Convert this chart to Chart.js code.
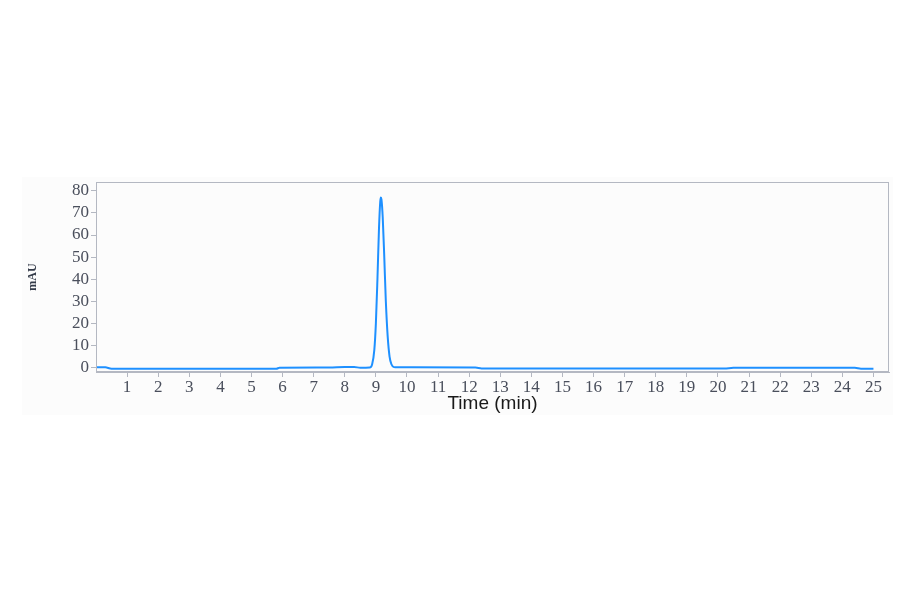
<!DOCTYPE html>
<html>
<head>
<meta charset="utf-8">
<script src="https://cdn.jsdelivr.net/npm/chart.js@4/dist/chart.umd.min.js"></script>
<style>
  html, body { margin: 0; padding: 0; background: #ffffff; }
  #panel { position: absolute; left: 22px; top: 177px; width: 871px; height: 238px; background: #fcfcfc; }
  #chart { display: block; }
</style>
</head>
<body>
<div id="panel"><canvas id="chart" width="871" height="238"></canvas></div>
<script>
// chromatogram: time (min) and absorbance (mAU)
var times = [0, 0.3, 0.5, 3.0, 5.8, 5.9, 7.5, 8.0, 8.3, 8.5, 8.8,
             8.88, 8.95, 9.00, 9.05, 9.10, 9.14, 9.16, 9.18, 9.22, 9.27, 9.32, 9.38, 9.44, 9.50, 9.58,
             9.7, 12.2, 12.4, 16.0, 20.2, 20.5, 22.5, 24.4, 24.6, 25.0];
var mau   = [0.2, 0.1, -0.5, -0.5, -0.5, -0.1, 0.0, 0.3, 0.3, -0.1, 0.0,
             1.5, 8, 20, 40, 63, 75, 77, 76, 68, 50, 30, 14, 5, 1.5, 0.2,
             0.1, 0.0, -0.4, -0.4, -0.4, -0.1, -0.1, -0.1, -0.5, -0.5];

var xTicks = [1,2,3,4,5,6,7,8,9,10,11,12,13,14,15,16,17,18,19,20,21,22,23,24,25];
var yTicks = [0,10,20,30,40,50,60,70,80];

var points = times.map(function(t, i) { return { x: t, y: mau[i] }; });

var tickFont = { family: 'Liberation Serif', size: 17 };
var tickColor = '#4a4f5c';
var axisColor = '#b4b8c2';

// box round the plot area
var frame = {
  id: 'frame',
  afterDraw: function(chart) {
    var a = chart.chartArea, c = chart.ctx;
    c.save();
    c.strokeStyle = axisColor;
    c.lineWidth = 1;
    c.strokeRect(a.left + 0.5, a.top + 0.5, a.right - a.left - 1, a.bottom - a.top - 1);
    c.restore();
  }
};

new Chart(document.getElementById('chart'), {
  type: 'line',
  data: {
    datasets: [{
      data: points,
      borderColor: '#1e90ff',
      borderWidth: 2,
      pointRadius: 0,
      fill: false,
      cubicInterpolationMode: 'monotone'
    }]
  },
  options: {
    responsive: false,
    animation: false,
    layout: { padding: { left: 0, right: 4, top: 5, bottom: 0 } },
    plugins: { legend: { display: false }, tooltip: { enabled: false } },
    scales: {
      x: {
        type: 'linear',
        min: 0, max: 25.5,
        afterFit: function(s) { s.height = 43; s.paddingLeft = 0; s.paddingRight = 0; },
        afterBuildTicks: function(s) { s.ticks = xTicks.map(function(v) { return { value: v }; }); },
        grid: { drawOnChartArea: false, drawTicks: true, tickLength: 5, color: axisColor },
        border: { color: axisColor },
        ticks: { font: tickFont, color: tickColor, padding: 0, maxRotation: 0, autoSkip: false },
        title: { display: true, text: 'Time (min)', font: { family: 'Liberation Sans', size: 19 }, color: '#1a1a1a', padding: { top: 0, bottom: 0 } }
      },
      y: {
        min: -2, max: 84,
        afterFit: function(s) { s.width = 74; s.paddingTop = 0; s.paddingBottom = 0; },
        afterBuildTicks: function(s) { s.ticks = yTicks.map(function(v) { return { value: v }; }); },
        grid: { drawOnChartArea: false, drawTicks: true, tickLength: 5, color: axisColor },
        border: { color: axisColor },
        ticks: { font: tickFont, color: tickColor, padding: 2, autoSkip: false },
        title: { display: true, text: 'mAU', font: { family: 'Liberation Serif', size: 12, weight: 'bold' }, color: '#333a48', padding: { top: 4, bottom: 4 } }
      }
    }
  },
  plugins: [frame]
});
</script>
</body>
</html>
